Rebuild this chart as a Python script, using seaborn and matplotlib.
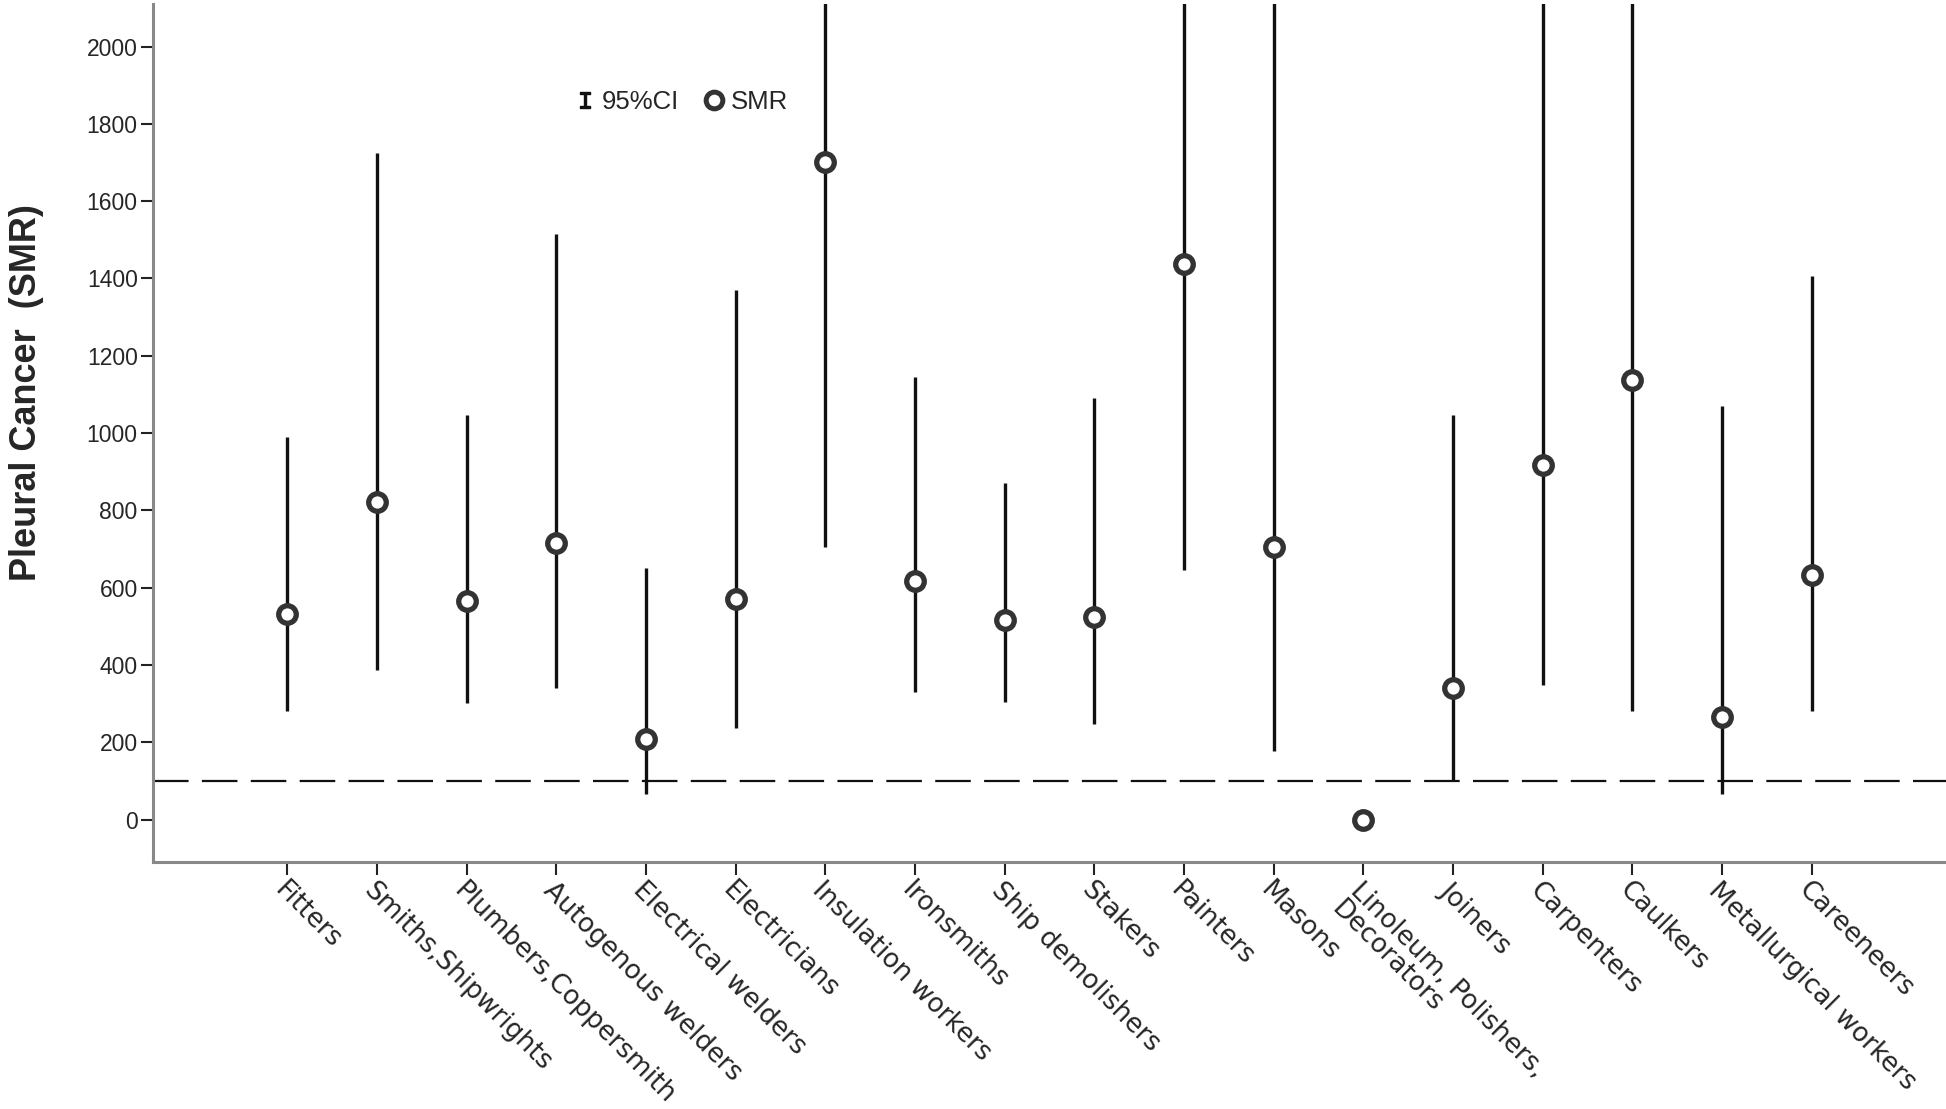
import numpy as np
import pandas as pd
import matplotlib
matplotlib.use("Agg")
import matplotlib.pyplot as plt
import seaborn as sns
from matplotlib.lines import Line2D

occupations = ["Fitters", "Smiths,Shipwrights", "Plumbers,Coppersmith", "Autogenous welders",
               "Electrical welders", "Electricians", "Insulation workers", "Ironsmiths",
               "Ship demolishers", "Stakers", "Painters", "Masons",
               "Linoleum, Polishers,\nDecorators", "Joiners", "Carpenters", "Caulkers",
               "Metallurgical workers", "Careeneers"]
smr = [533, 822, 565, 716, 209, 571, 1701, 616, 517, 523, 1438, 706, 0, 340, 918, 1136, 266, 632]
ci_low = [282, 388, 302, 340, 67, 238, 706, 331, 305, 247, 645, 177, np.nan, 103, 347, 282, 67, 282]
ci_high = [989, 1724, 1046, 1515, 652, 1371, 3500, 1146, 870, 1091, 4200, 6000, np.nan, 1046, 3000, 3300, 1069, 1406]
reference_smr = 100
yticks = [0, 200, 400, 600, 800, 1000, 1200, 1400, 1600, 1800, 2000]

df = pd.DataFrame({"occ": occupations, "smr": smr, "lo": ci_low, "hi": ci_high})

sns.set_theme(style="white")
plt.rcParams["font.family"] = ["Liberation Sans", "DejaVu Sans"]

fig = plt.figure(figsize=(19.46, 11.09), dpi=100)
ax = fig.add_axes([0.0786, 0.2227, 0.9214, 0.7737])

x = np.arange(len(occupations))
ax.vlines(x, df["lo"], df["hi"], color="#111111", linewidth=2.4, zorder=2)
ax.axhline(reference_smr, color="#111111", linewidth=1.6, linestyle=(0, (16, 6)), zorder=1)
sns.scatterplot(x=x, y=df["smr"], ax=ax, marker="o", s=160, facecolor="white",
                edgecolor="#333333", linewidth=3.8, zorder=3, legend=False)

ax.set_xlim(-1.5, 18.5)
ax.set_ylim(-110, 2110)
ax.set_yticks(yticks)
ax.set_yticklabels([str(v) for v in yticks], fontsize=16.5)
ax.set_xticks(x)
ax.set_xticklabels(occupations, rotation=-45, ha="left", va="top", rotation_mode="anchor",
                   fontsize=19, family="DejaVu Sans", linespacing=1.0)
ax.tick_params(axis="both", direction="out", length=9, width=1.5, color="#222222",
               bottom=True, left=True, pad=2)
ax.set_xlabel("")
ax.set_ylabel("Pleural Cancer  (SMR)", fontsize=26, fontweight="bold")
ax.yaxis.set_label_coords(-0.0605, 0.547)

for side in ["top", "right"]:
    ax.spines[side].set_visible(False)
for side in ["left", "bottom"]:
    ax.spines[side].set_color("#888888")
    ax.spines[side].set_linewidth(2.2)

handles = [Line2D([], [], linestyle="none", marker=r"$\mathtt{I}$", markersize=12,
                  color="#111111"),
           Line2D([], [], linestyle="none", marker="o", markersize=12, markerfacecolor="white",
                  markeredgecolor="#333333", markeredgewidth=3.6)]
ax.legend(handles, ["95%CI", "SMR"], ncol=2, frameon=False, fontsize=18.5,
          loc="center left", bbox_to_anchor=(0.221, 0.886), handletextpad=0.15,
          columnspacing=0.85, handlelength=1.0)

fig.savefig("out.png", dpi=100)
